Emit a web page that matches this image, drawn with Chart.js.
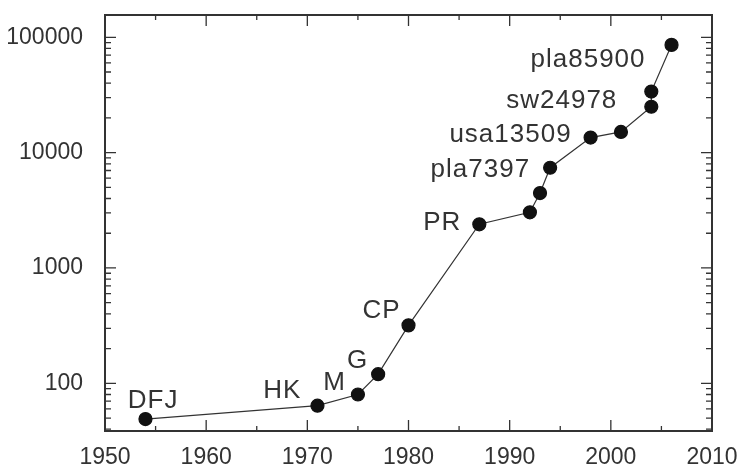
<!DOCTYPE html>
<html>
<head>
<meta charset="utf-8">
<script src="https://cdn.jsdelivr.net/npm/chart.js@4/dist/chart.umd.min.js"></script>
<style>
  html, body { margin: 0; padding: 0; background: #fff; }
  #wrap { width: 743px; height: 464px; }
</style>
</head>
<body>
<div id="wrap"><canvas id="tsp"></canvas></div>
<script>
// TSP record instances solved to optimality
var years = [1954, 1971, 1975, 1977, 1980, 1987, 1992, 1993, 1994, 1998, 2001, 2004, 2004, 2006];
var cities = [49, 64, 80, 120, 318, 2392, 3038, 4461, 7397, 13509, 15112, 24978, 33810, 85900];
var names = ['DFJ', 'HK', 'M', 'G', 'CP', 'PR', '', '', 'pla7397', 'usa13509', '', 'sw24978', '', 'pla85900'];
var yTicks = [100, 1000, 10000, 100000];
var xTicks = [1950, 1960, 1970, 1980, 1990, 2000, 2010];

var points = years.map(function (y, i) { return { x: y, y: cities[i] }; });

// where each name sits relative to its point (right edge, baseline)
var labelPos = {
    'DFJ': [33, -11], 'HK': [-16, -8], 'M': [-12, -4], 'G': [-10, -6], 'CP': [-8, -7],
    'PR': [-18, 6], 'pla7397': [-20, 9], 'usa13509': [-19, 4], 'sw24978': [-34, 1], 'pla85900': [-26, 22]
};

var frame = {
    id: 'frame',
    afterDatasetsDraw: function (chart) {
        var c = chart.ctx, a = chart.chartArea, xs = chart.scales.x, ys = chart.scales.y;
        c.save();
        c.strokeStyle = '#333';
        c.lineWidth = 1.3;
        c.beginPath();
        for (var yr = 1955; yr < 2010; yr += 5) {
            var px = xs.getPixelForValue(yr);
            var len = yr % 10 === 0 ? 11 : 5;
            c.moveTo(px, a.bottom); c.lineTo(px, a.bottom - len);
            c.moveTo(px, a.top); c.lineTo(px, a.top + len);
        }
        for (var e = 1; e <= 5; e++) {
            for (var m = 1; m <= 9; m++) {
                var v = m * Math.pow(10, e);
                if (v < ys.min || v > ys.max) continue;
                var py = ys.getPixelForValue(v);
                var l = m === 1 ? 11 : 6;
                c.moveTo(a.left, py); c.lineTo(a.left + l, py);
                c.moveTo(a.right, py); c.lineTo(a.right - l, py);
            }
        }
        c.stroke();
        c.lineWidth = 2;
        c.strokeRect(a.left, a.top, a.right - a.left, a.bottom - a.top);

        c.fillStyle = '#333';
        c.font = '26px "Liberation Sans", Arial, sans-serif';
        c.letterSpacing = '1px';
        c.textAlign = 'right';
        c.textBaseline = 'alphabetic';
        names.forEach(function (n, i) {
            if (!n) return;
            var p = labelPos[n];
            c.fillText(n, xs.getPixelForValue(years[i]) + p[0], ys.getPixelForValue(cities[i]) + p[1]);
        });
        c.restore();
    }
};

var ctx = document.getElementById('tsp').getContext('2d');
var chart = new Chart(ctx, {
    type: 'line',
    data: {
        datasets: [{
            data: points,
            borderColor: '#333',
            borderWidth: 1.2,
            backgroundColor: '#111',
            pointBackgroundColor: '#111',
            pointBorderColor: '#111',
            pointRadius: 6.5,
            pointHoverRadius: 6.5,
            tension: 0
        }]
    },
    options: {
        responsive: true,
        maintainAspectRatio: false,
        animation: false,
        layout: { padding: { top: 15, right: 31, left: 0, bottom: 0 } },
        plugins: { legend: { display: false }, tooltip: { enabled: false } },
        scales: {
            x: {
                type: 'linear',
                min: 1950,
                max: 2010,
                afterBuildTicks: function (s) { s.ticks = xTicks.map(function (v) { return { value: v }; }); },
                afterFit: function (s) { s.height = 33; s.paddingLeft = 0; s.paddingRight = 0; },
                grid: { display: false },
                border: { display: false },
                ticks: {
                    color: '#333',
                    font: { family: '"Liberation Sans", Arial, sans-serif', size: 23 },
                    padding: 5,
                    maxRotation: 0,
                    callback: function (v) { return String(v); }
                }
            },
            y: {
                type: 'logarithmic',
                min: 38.6,
                max: 156000,
                afterBuildTicks: function (s) { s.ticks = yTicks.map(function (v) { return { value: v }; }); },
                afterFit: function (s) { s.width = 105; s.paddingTop = 0; s.paddingBottom = 0; },
                grid: { display: false },
                border: { display: false },
                ticks: {
                    color: '#333',
                    font: { family: '"Liberation Sans", Arial, sans-serif', size: 23 },
                    padding: 14,
                    callback: function (v) { return String(v); }
                }
            }
        }
    },
    plugins: [frame]
});
</script>
</body>
</html>
